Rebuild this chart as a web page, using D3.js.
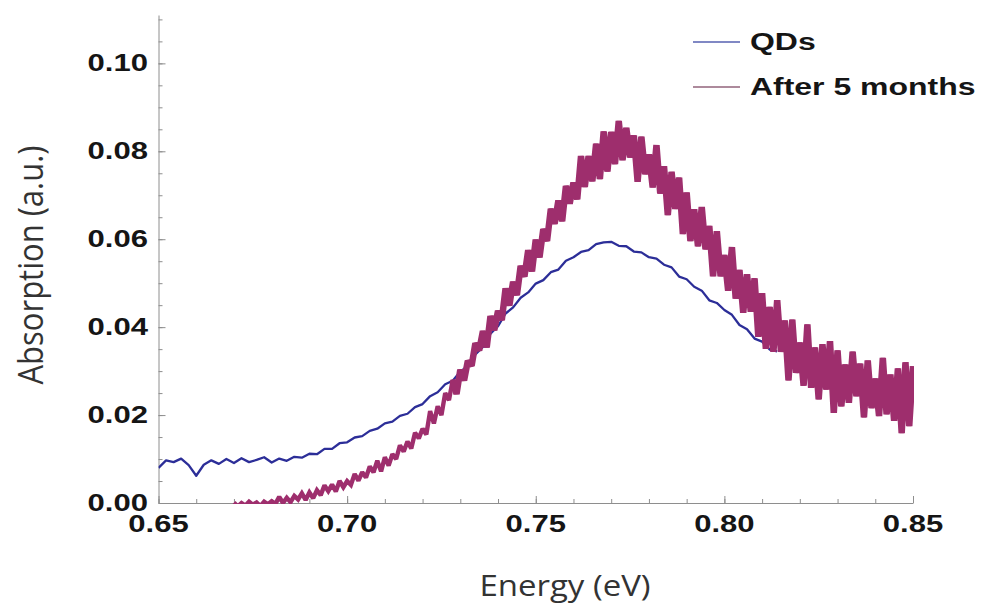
<!DOCTYPE html>
<html>
<head>
<meta charset="utf-8">
<script src="https://cdn.jsdelivr.net/npm/d3@7"></script>
<style>
  html, body { margin: 0; padding: 0; background: #fff; }
  svg { display: block; }
</style>
</head>
<body>
<div id="chart"></div>
<script>
"use strict";

// Series names, in legend order
var seriesNames = ["QDs", "After 5 months"];

// QDs: one reading every 0.002 eV starting at 0.650 eV
var qdStart = 0.650, qdStep = 0.002;
var qdValues = [
  0.0080, 0.0097, 0.0093, 0.0101, 0.0086, 0.0062, 0.0087, 0.0097, 0.0089, 0.0100,
  0.0091, 0.0102, 0.0093, 0.0098, 0.0104, 0.0092, 0.0101, 0.0096, 0.0105, 0.0103,
  0.0112, 0.0111, 0.0123, 0.0123, 0.0136, 0.0138, 0.0149, 0.0152, 0.0164, 0.0169,
  0.0181, 0.0185, 0.0198, 0.0203, 0.0218, 0.0225, 0.0243, 0.0252, 0.0270, 0.0278,
  0.0299, 0.0312, 0.0338, 0.0355, 0.0385, 0.0402, 0.0431, 0.0445, 0.0467, 0.0479,
  0.0499, 0.0507, 0.0525, 0.0531, 0.0551, 0.0559, 0.0571, 0.0575, 0.0589, 0.0593,
  0.0594, 0.0585, 0.0584, 0.0572, 0.0570, 0.0559, 0.0556, 0.0542, 0.0536, 0.0515,
  0.0509, 0.0492, 0.0483, 0.0461, 0.0455, 0.0439, 0.0428, 0.0405, 0.0395, 0.0374,
  0.0367, 0.0349, 0.0345
];

// After 5 months: one reading every 0.001 eV starting at 0.670 eV (very noisy)
var agedStart = 0.670, agedStep = 0.001;
var agedValues = [
  0.0001, -0.0008, 0.0000, -0.0006, 0.0003, -0.0004, 0.0001, -0.0007, 0.0003, -0.0003,
  0.0004, -0.0002, 0.0014, 0.0000, 0.0012, 0.0002, 0.0016, 0.0008, 0.0022, 0.0007,
  0.0024, 0.0011, 0.0029, 0.0018, 0.0040, 0.0027, 0.0042, 0.0026, 0.0050, 0.0036,
  0.0050, 0.0041, 0.0066, 0.0051, 0.0070, 0.0058, 0.0083, 0.0070, 0.0096, 0.0072,
  0.0104, 0.0085, 0.0111, 0.0100, 0.0131, 0.0117, 0.0140, 0.0124, 0.0160, 0.0147,
  0.0169, 0.0156, 0.0209, 0.0181, 0.0220, 0.0200, 0.0250, 0.0234, 0.0280, 0.0248,
  0.0303, 0.0279, 0.0323, 0.0312, 0.0363, 0.0347, 0.0391, 0.0354, 0.0425, 0.0393,
  0.0437, 0.0416, 0.0488, 0.0449, 0.0503, 0.0473, 0.0539, 0.0515, 0.0575, 0.0527,
  0.0599, 0.0559, 0.0623, 0.0596, 0.0669, 0.0635, 0.0688, 0.0641, 0.0721, 0.0681,
  0.0729, 0.0691, 0.0789, 0.0719, 0.0789, 0.0732, 0.0817, 0.0737, 0.0845, 0.0754,
  0.0844, 0.0771, 0.0869, 0.0780, 0.0853, 0.0786, 0.0836, 0.0731, 0.0833, 0.0748,
  0.0793, 0.0718, 0.0814, 0.0704, 0.0766, 0.0655, 0.0753, 0.0669, 0.0740, 0.0612,
  0.0706, 0.0596, 0.0668, 0.0584, 0.0673, 0.0577, 0.0630, 0.0516, 0.0618, 0.0516,
  0.0564, 0.0483, 0.0582, 0.0465, 0.0530, 0.0433, 0.0520, 0.0435, 0.0511, 0.0378,
  0.0477, 0.0351, 0.0446, 0.0344, 0.0461, 0.0344, 0.0415, 0.0279, 0.0417, 0.0296,
  0.0365, 0.0267, 0.0406, 0.0262, 0.0354, 0.0236, 0.0361, 0.0258, 0.0368, 0.0205,
  0.0347, 0.0220, 0.0315, 0.0228, 0.0344, 0.0243, 0.0317, 0.0195, 0.0324, 0.0216,
  0.0283, 0.0198, 0.0330, 0.0202, 0.0292, 0.0187, 0.0306, 0.0159, 0.0320, 0.0175,
  0.0311
];

// Axis ticks and labels
var xTickValues = [0.65, 0.70, 0.75, 0.80, 0.85];
var yTickValues = [0.00, 0.02, 0.04, 0.06, 0.08, 0.10];
var xTitle = "Energy (eV)";
var yTitle = "Absorption (a.u.)";

var seriesColors = ["#2c2e98", "#9e2e6d"];
var legendColors = ["#8088c4", "#ad8a9c"];

var width = 981, height = 606;
var labelStretch = 1.35;   // the picture is widened, text too
var legendStretch = 1.39;
var titleStretch = 1.1;

var svg = d3.select("#chart")
            .append("svg")
            .attr("width", width)
            .attr("height", height);

// Scales
var x = d3.scaleLinear().domain([0.65, 0.85]).range([158.5, 913]);
var y = d3.scaleLinear().domain([0, 0.111]).range([503, 15]);

var xMinor = d3.range(0, 21).map(function(i) { return 0.65 + i * 0.01; });
var yMinor = d3.range(0, 23).map(function(i) { return i * 0.005; });

// X axis: minor ticks, then major ticks (both pointing inward)
svg.append("g")
   .attr("transform", "translate(0," + y(0) + ")")
   .attr("color", "#8e8e8e")
   .call(d3.axisBottom(x).tickValues(xMinor).tickSize(-4).tickSizeOuter(0).tickFormat(""));
svg.append("g")
   .attr("transform", "translate(0," + y(0) + ")")
   .attr("color", "#8e8e8e")
   .call(d3.axisBottom(x).tickValues(xTickValues).tickSize(-7).tickSizeOuter(0).tickFormat(""))
   .call(function(g) { g.select(".domain").remove(); });

// Y axis
svg.append("g")
   .attr("transform", "translate(" + x(0.65) + ",0)")
   .attr("color", "#8e8e8e")
   .call(d3.axisLeft(y).tickValues(yMinor).tickSize(-4).tickSizeOuter(0).tickFormat(""));
svg.append("g")
   .attr("transform", "translate(" + x(0.65) + ",0)")
   .attr("color", "#8e8e8e")
   .call(d3.axisLeft(y).tickValues(yTickValues).tickSize(-7).tickSizeOuter(0).tickFormat(""))
   .call(function(g) { g.select(".domain").remove(); });

// Tick labels
svg.selectAll(".xlab")
   .data(xTickValues)
   .enter()
   .append("text")
   .attr("class", "xlab")
   .attr("transform", function(d) { return "translate(" + x(d) + ",524) scale(" + labelStretch + ",1)"; })
   .attr("dy", "0.35em")
   .attr("text-anchor", "middle")
   .style("font", "bold 23px 'Liberation Sans', Arial, sans-serif")
   .attr("fill", "#151515")
   .text(function(d) { return d3.format(".2f")(d); });

svg.selectAll(".ylab")
   .data(yTickValues)
   .enter()
   .append("text")
   .attr("class", "ylab")
   .attr("transform", function(d) { return "translate(148," + y(d) + ") scale(" + labelStretch + ",1)"; })
   .attr("dy", "0.35em")
   .attr("text-anchor", "end")
   .style("font", "bold 23px 'Liberation Sans', Arial, sans-serif")
   .attr("fill", "#151515")
   .text(function(d) { return d3.format(".2f")(d); });

// Axis titles
svg.append("text")
   .attr("transform", "translate(565,596) scale(" + titleStretch + ",1)")
   .attr("text-anchor", "middle")
   .style("font", "30px 'Open Sans', sans-serif")
   .attr("fill", "#333")
   .text(xTitle);

svg.append("text")
   .attr("transform", "translate(43,265) scale(" + titleStretch + ",1) rotate(-90)")
   .attr("text-anchor", "middle")
   .style("font", "31px 'Open Sans', sans-serif")
   .attr("fill", "#333")
   .text(yTitle);

// Plot area clip
svg.append("clipPath")
   .attr("id", "plotclip")
   .append("rect")
   .attr("x", x(0.65)).attr("y", y(0.111) - 5)
   .attr("width", x(0.85) - x(0.65) + 1).attr("height", y(0) - y(0.111) + 6);

var plot = svg.append("g").attr("clip-path", "url(#plotclip)");

var qdLine = d3.line()
               .x(function(d, i) { return x(qdStart + i * qdStep); })
               .y(function(d) { return y(d); });
var agedLine = d3.line()
                 .x(function(d, i) { return x(agedStart + i * agedStep); })
                 .y(function(d) { return y(d); });
// the noisier upper part of the aged trace reads as a thicker band
var agedLineHigh = d3.line()
                     .defined(function(d, i) { return agedStart + i * agedStep >= 0.7275; })
                     .x(function(d, i) { return x(agedStart + i * agedStep); })
                     .y(function(d) { return y(d); });

plot.append("path")
    .datum(qdValues)
    .attr("d", qdLine)
    .attr("fill", "none")
    .attr("stroke", seriesColors[0])
    .attr("stroke-width", 2.3)
    .attr("stroke-linejoin", "round");

plot.append("path")
    .datum(agedValues)
    .attr("d", agedLine)
    .attr("fill", "none")
    .attr("stroke", seriesColors[1])
    .attr("stroke-width", 4.4)
    .attr("stroke-linejoin", "miter")
    .attr("stroke-miterlimit", 2);

plot.append("path")
    .datum(agedValues)
    .attr("d", agedLineHigh)
    .attr("fill", "none")
    .attr("stroke", seriesColors[1])
    .attr("stroke-width", 6.5)
    .attr("stroke-linejoin", "miter")
    .attr("stroke-miterlimit", 1.5);

// Legend
var legend = svg.selectAll(".legend")
                .data(seriesNames)
                .enter()
                .append("g")
                .attr("class", "legend")
                .attr("transform", function(d, i) { return "translate(693," + (42 + i * 45) + ")"; });
legend.append("line")
      .attr("x1", 0).attr("x2", 47)
      .attr("stroke", function(d, i) { return legendColors[i]; })
      .attr("stroke-width", 2);
legend.append("text")
      .attr("transform", "translate(57,0) scale(" + legendStretch + ",1)")
      .attr("dy", "0.35em")
      .style("font", "bold 23px 'Liberation Sans', Arial, sans-serif")
      .attr("fill", "#151515")
      .text(function(d) { return d; });
</script>
</body>
</html>
